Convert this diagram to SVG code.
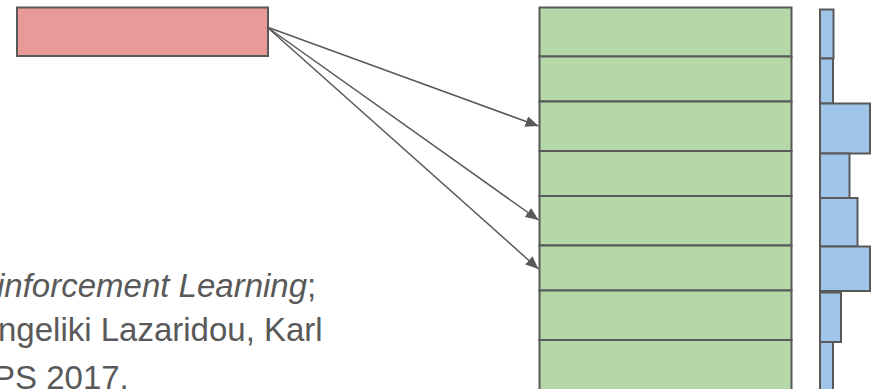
<svg xmlns="http://www.w3.org/2000/svg" width="885" height="389" viewBox="0 0 885 389">
  <style>
    .box { stroke: #595959; stroke-width: 2; }
    .query { fill: #ea9999; }
    .slot { fill: #b6d7a8; }
    .bar { fill: #9fc5e8; }
    .edge { stroke: #595959; stroke-width: 1.5; fill: none; }
    .cite { font-family: "Liberation Sans", Arial, sans-serif; font-size: 33px; fill: #595959; }
  </style>
  <defs>
    <marker id="arrow" viewBox="0 0 13 11" refX="13" refY="5.5" markerWidth="13" markerHeight="11" markerUnits="userSpaceOnUse" orient="auto">
      <path d="M0,0 L13,5.5 L0,11 Z" fill="#595959"/>
    </marker>
  </defs>

  <rect width="885" height="389" fill="#ffffff"/>

  <!-- query vector -->
  <g id="query">
    <rect class="box query" x="17" y="7.5" width="251" height="48.5"/>
  </g>

  <!-- memory slots -->
  <g id="memory">
    <rect class="box slot" x="539.5" y="7.5" width="252" height="49"/>
    <rect class="box slot" x="539.5" y="56.5" width="252" height="45"/>
    <rect class="box slot" x="539.5" y="101.5" width="252" height="49.5"/>
    <rect class="box slot" x="539.5" y="151" width="252" height="45"/>
    <rect class="box slot" x="539.5" y="196" width="252" height="49.5"/>
    <rect class="box slot" x="539.5" y="245.5" width="252" height="45"/>
    <rect class="box slot" x="539.5" y="290.5" width="252" height="49.5"/>
    <rect class="box slot" x="539.5" y="340" width="252" height="52"/>
  </g>

  <!-- attention weights -->
  <g id="weights">
    <rect class="box bar" x="820" y="9.5" width="13.5" height="49"/>
    <rect class="box bar" x="820" y="58.5" width="13" height="45"/>
    <rect class="box bar" x="820" y="103.5" width="50" height="50"/>
    <rect class="box bar" x="820" y="153.5" width="29.5" height="44.5"/>
    <rect class="box bar" x="820" y="198" width="37.5" height="48.5"/>
    <rect class="box bar" x="820" y="246.5" width="50" height="44.5"/>
    <rect class="box bar" x="820" y="292.5" width="21" height="49.5"/>
    <rect class="box bar" x="820" y="342" width="13" height="50"/>
  </g>

  <!-- lookups -->
  <g id="connectors">
    <line class="edge" x1="267" y1="27" x2="538.5" y2="126" marker-end="url(#arrow)"/>
    <line class="edge" x1="267" y1="27" x2="538.5" y2="220" marker-end="url(#arrow)"/>
    <line class="edge" x1="267" y1="27" x2="538.5" y2="269" marker-end="url(#arrow)"/>
  </g>

  <!-- reference -->
  <g id="citation">
    <text class="cite" x="-3" y="297"><tspan font-style="italic">inforcement Learning</tspan>;</text>
    <text class="cite" x="-2" y="341">ngeliki Lazaridou, Karl</text>
    <text class="cite" x="-7" y="389">PS 2017.</text>
  </g>
</svg>
